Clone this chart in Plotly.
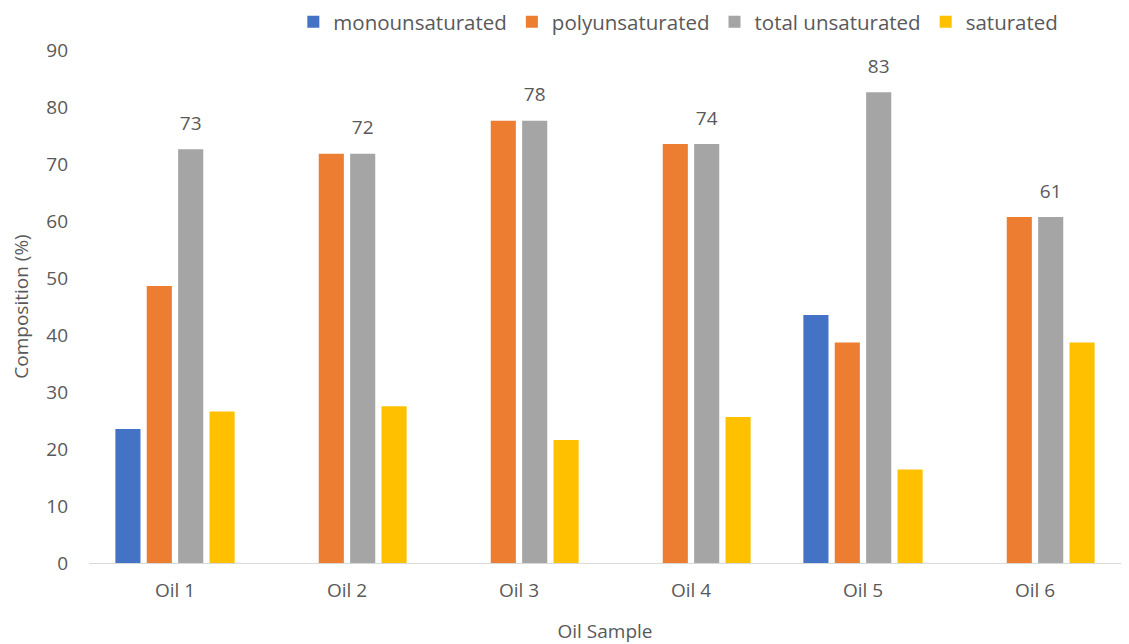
import plotly.graph_objects as go

categories = ["Oil 1", "Oil 2", "Oil 3", "Oil 4", "Oil 5", "Oil 6"]
monounsaturated = [23.5, None, None, None, 43.5, None]
polyunsaturated = [48.6, 71.8, 77.6, 73.5, 38.7, 60.7]
total_unsaturated = [72.6, 71.8, 77.6, 73.5, 82.6, 60.7]
saturated = [26.6, 27.5, 21.6, 25.6, 16.4, 38.7]

font_family = "Open Sans, Liberation Sans, sans-serif"
grey_text = "#595959"

fig = go.Figure()
fig.add_bar(name="monounsaturated", x=categories, y=monounsaturated, marker_color="#4472C4",
            offsetgroup="g1", alignmentgroup="a")
fig.add_bar(name="polyunsaturated", x=categories, y=polyunsaturated, marker_color="#ED7D31",
            offsetgroup="g2", alignmentgroup="a")
fig.add_bar(name="total unsaturated", x=categories, y=total_unsaturated, marker_color="#A5A5A5",
            offsetgroup="g3", alignmentgroup="a")
fig.add_bar(name="saturated", x=categories, y=saturated, marker_color="#FFC000",
            offsetgroup="g4", alignmentgroup="a")
fig.update_traces(marker_line_width=0)

fig.add_scatter(x=categories, y=total_unsaturated, mode="markers+text",
                texttemplate="%{y:.0f}", textposition="top center",
                marker=dict(size=22, opacity=0), showlegend=False, hoverinfo="skip",
                offsetgroup="g3", alignmentgroup="a", cliponaxis=False,
                textfont=dict(size=19, color=grey_text, family=font_family))

fig.update_layout(
    width=1121, height=636,
    margin=dict(l=81, r=8, t=42, b=81, autoexpand=False),
    paper_bgcolor="white", plot_bgcolor="white",
    barmode="group", bargap=0.27, bargroupgap=0.2, scattermode="group",
    font=dict(family=font_family, color=grey_text, size=19),
    legend=dict(orientation="h", x=0.198, xanchor="left", y=1.0546, yref="paper",
                yanchor="middle", font=dict(size=20.5, color=grey_text), itemwidth=30,
                traceorder="normal"),
    xaxis=dict(title=dict(text="Oil Sample", font=dict(size=19), standoff=22),
               automargin=False,
               showline=True, linecolor="#D9D9D9", linewidth=1, ticks="",
               ticklabelstandoff=10, tickfont=dict(size=19)),
    yaxis=dict(title=dict(text="Composition (%)", font=dict(size=19), standoff=14),
               automargin=False,
               range=[0, 90], dtick=10, showgrid=False, zeroline=False,
               showline=False, ticks="", ticklabelstandoff=20, tickfont=dict(size=19)),
)

fig.write_html("out.html")
